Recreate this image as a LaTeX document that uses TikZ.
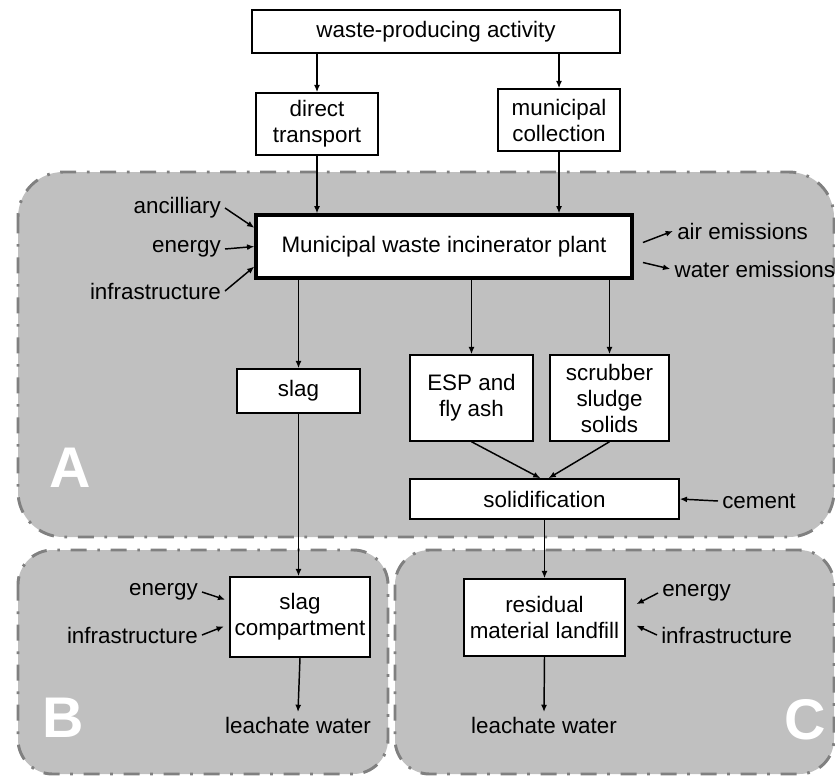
\documentclass[tikz,border=0pt]{standalone}
\usepackage{fontspec}
\setmainfont{Liberation Sans}
\usetikzlibrary{arrows.meta}

\definecolor{zonefill}{RGB}{192,192,192}
\definecolor{zoneline}{RGB}{128,128,128}

\tikzset{
  zone/.style={fill=zonefill, draw=zoneline, line width=2.2pt, dash pattern=on 12pt off 8pt on 2pt off 8pt},
  box/.style={draw, fill=white, line width=1.1pt, align=center, inner sep=2pt},
  mainbox/.style={box, line width=2.4pt},
  flow/.style={-{Latex[length=5.5pt,width=4.5pt]}, line width=1.1pt},
  zonename/.style={text=white, font=\fontsize{43}{43}\selectfont\bfseries},
  side/.style={inner sep=3pt}
}

\begin{document}
\begin{tikzpicture}[x=0.75pt, y=-0.75pt, every node/.style={font=\fontsize{16.8}{19.5}\selectfont}]
        \useasboundingbox (0,0) rectangle (835,778);

        \draw[zone, rounded corners=34pt] (18,172) rectangle (834,537);
        \draw[zone, rounded corners=26pt] (18,550) rectangle (388,774);
        \draw[zone, rounded corners=26pt] (395,550) rectangle (834,774);

        \node[zonename] (nameA) at (70,468) {A};
        \node[zonename] (nameB) at (63,718) {B};
        \node[zonename] (nameC) at (805,720) {C};

        \node[box, minimum width=276pt, minimum height=32.25pt] (activity) at (436,31.5) {waste-producing activity};
        \node[box, minimum width=91.5pt, minimum height=46.5pt] (direct) at (317,124) {direct\\transport};
        \node[box, minimum width=91.5pt, minimum height=46.5pt] (collection) at (559,120) {municipal\\collection};

        \node[mainbox, minimum width=282pt, minimum height=47.25pt] (plant) at (444,246.5) {Municipal waste incinerator plant};

        \node[box, minimum width=92.25pt, minimum height=33pt] (slag) at (298.5,391) {slag};
        \node[box, minimum width=92.25pt, minimum height=64.5pt] (esp) at (471.5,398) {ESP and\\fly ash};
        \node[box, minimum width=89.25pt, minimum height=64.5pt] (scrubber) at (609.5,398) {scrubber\\sludge\\solids};
        \node[box, minimum width=201.75pt, minimum height=30pt] (solid) at (544.5,499) {solidification};

        \node[box, minimum width=105pt, minimum height=60pt] (slagcomp) at (300,617) {slag\\compartment};
        \node[box, minimum width=120.75pt, minimum height=57.75pt] (landfill) at (544.5,617.5) {residual\\material landfill};

        \node (leachB) at (298,725) {leachate water};
        \node (leachC) at (544,725) {leachate water};

        \node[side, anchor=east] (ancil) at (225,208) {ancilliary};
        \node[side, anchor=east] (energyA) at (225,249) {energy};
        \node[side, anchor=east] (infraA) at (225,291) {infrastructure};
        \node[side, anchor=west] (air) at (673,231) {air emissions};
        \node[side, anchor=west, inner sep=1pt] (water) at (673,269) {water emissions};
        \node[side, anchor=west] (cement) at (718,501) {cement};
        \node[side, anchor=east] (energyB) at (202,592) {energy};
        \node[side, anchor=east] (infraB) at (202,635) {infrastructure};
        \node[side, anchor=west] (energyC) at (658,593) {energy};
        \node[side, anchor=west] (infraC) at (657,635) {infrastructure};

        \draw[flow] (activity.south -| direct.north) -- (direct.north);
        \draw[flow] (activity.south -| collection.north) -- (collection.north);
        \draw[flow] (direct.south) -- (direct.south |- plant.north);
        \draw[flow] (collection.south) -- (collection.south |- plant.north);

        \draw[flow] (ancil.east) -- ([yshift=14pt]plant.west);
        \draw[flow] (energyA.east) -- (plant.west);
        \draw[flow] (infraA.east) -- ([yshift=-15pt]plant.west);
        \draw[flow] ([shift={(7pt,3pt)}]plant.east) -- (air.west);
        \draw[flow] ([shift={(7pt,-12pt)}]plant.east) -- ([xshift=-2pt]water.west);

        \draw[flow] (plant.south -| slag.north) -- (slag.north);
        \draw[flow] (plant.south -| esp.north) -- (esp.north);
        \draw[flow] (plant.south -| scrubber.north) -- (scrubber.north);
        \draw[flow] (esp.south) -- ([xshift=-3pt]solid.north);
        \draw[flow] (scrubber.south) -- ([xshift=3pt]solid.north);
        \draw[flow] (cement.west) -- (solid.east);

        \draw[flow] (slag.south) -- (slag.south |- slagcomp.north);
        \draw[flow] (energyB.east) -- ([shift={(-3pt,13pt)}]slagcomp.west);
        \draw[flow] (infraB.east) -- ([shift={(-4pt,-7pt)}]slagcomp.west);
        \draw[flow] (slagcomp.south) -- (leachB.north);

        \draw[flow] (solid.south) -- (solid.south |- landfill.north);
        \draw[flow] (energyC.west) -- ([shift={(8pt,10pt)}]landfill.east);
        \draw[flow] (infraC.west) -- ([shift={(8pt,-6pt)}]landfill.east);
        \draw[flow] (landfill.south) -- (leachC.north);
    \end{tikzpicture}
\end{document}
